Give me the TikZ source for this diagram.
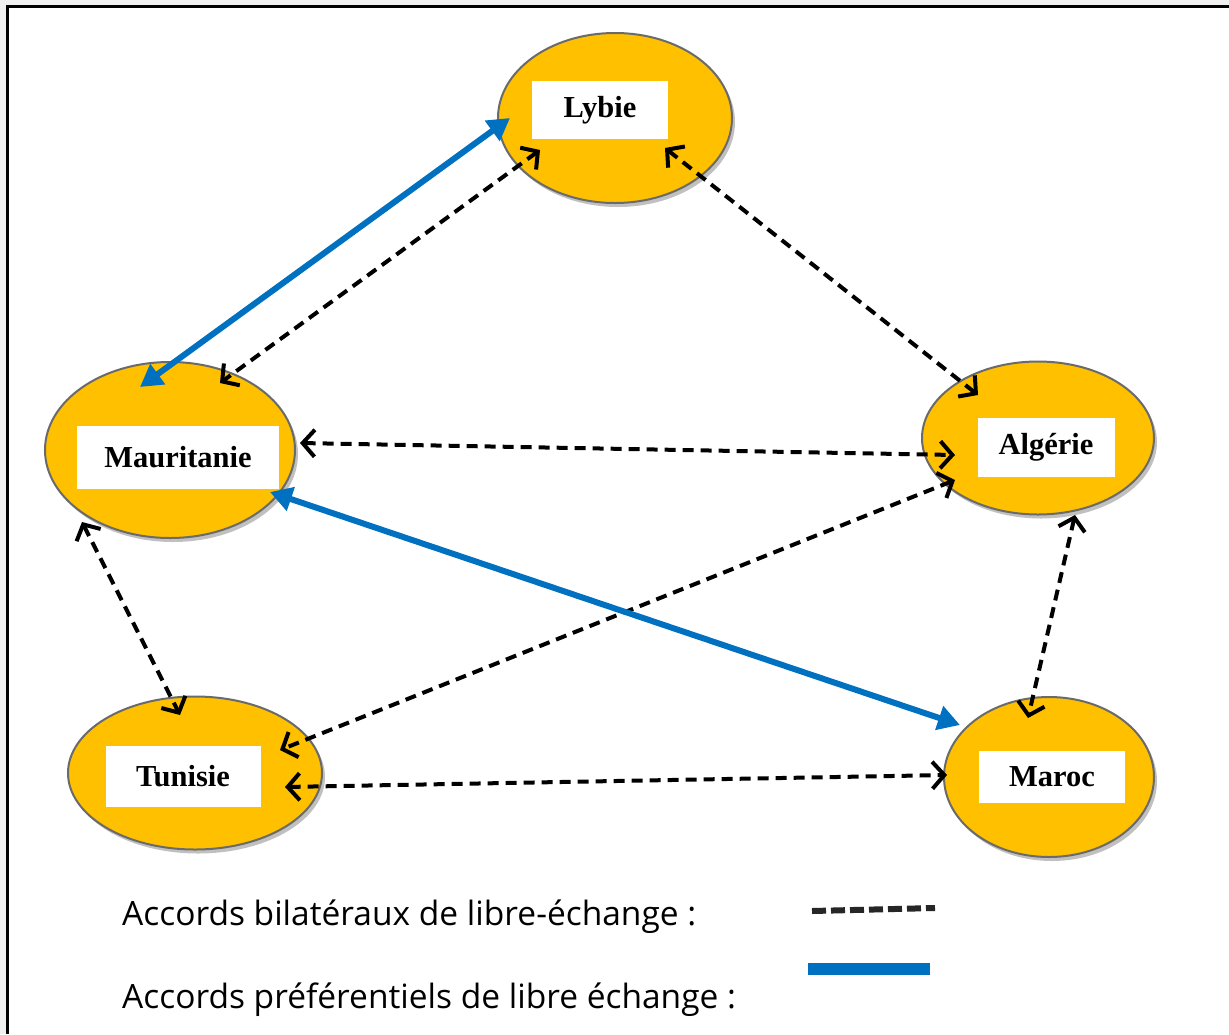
\documentclass[tikz,border=0pt]{standalone}
\usepackage{fontspec}
\setmainfont{Liberation Serif}
\newfontfamily\legfont{Open Sans}
\usetikzlibrary{shapes.geometric,arrows.meta,shadows}
\definecolor{gold}{HTML}{FFC000}
\definecolor{edgegray}{HTML}{6A6A6A}
\definecolor{prefblue}{HTML}{0070C0}
\definecolor{bggray}{HTML}{F0F0F0}
\tikzset{
  country/.style={ellipse, fill=gold, draw=edgegray, line width=2pt, inner sep=0pt,
    drop shadow={shadow xshift=3pt, shadow yshift=-4pt, fill=black!35, opacity=0.7}},
  labelbox/.style={fill=white, inner sep=0pt, font=\bfseries\fontsize{30.5}{33}\selectfont},
  bilat/.style={black, line width=4pt, dash pattern=on 11pt off 7pt,
    {Straight Barb[length=12pt,width=27pt]}-{Straight Barb[length=12pt,width=27pt]}},
  pref/.style={prefblue, line width=6pt,
    {Triangle[length=22pt,width=24pt]}-{Triangle[length=22pt,width=24pt]}},
  legtext/.style={anchor=west, inner sep=0pt, font=\legfont\fontsize{33.5}{36}\selectfont}
}
\begin{document}
\begin{tikzpicture}[x=1pt,y=-1pt]
\useasboundingbox (0,0) rectangle (1229,1034);
\fill[bggray] (0,0) rectangle (1229,1034);
\fill[white] (7,6) rectangle (1229,1034);
\draw[black, line width=3pt] (7,1034) -- (7,6) -- (1229,6);

% countries
\node[country, minimum width=234pt, minimum height=170pt] (lyb) at (615,118) {};
\node[country, minimum width=250pt, minimum height=176pt] (mau) at (170,450) {};
\node[country, minimum width=232pt, minimum height=153pt] (alg) at (1038,438) {};
\node[country, minimum width=254pt, minimum height=153pt] (tun) at (195,773) {};
\node[country, minimum width=210pt, minimum height=160pt] (mar) at (1049,777) {};

\node[labelbox, minimum width=136pt, minimum height=58pt] (lybL) at (600,110) {Lybie};
\node[labelbox, minimum width=202pt, minimum height=63pt] (mauL) at (178,457) {Mauritanie};
\node[labelbox, minimum width=137pt, minimum height=59pt] (algL) at (1046,447) {Algérie};
\node[labelbox, minimum width=155pt, minimum height=61pt] (tunL) at (183,776) {Tunisie};
\node[labelbox, minimum width=146pt, minimum height=52pt] (marL) at (1052,777) {Maroc};

% arrow end points
\coordinate (lybSW) at (540,150);
\coordinate (lybSE) at (665,148);
\coordinate (lybW) at (510,118);
\coordinate (mauNE) at (220,383);
\coordinate (mauN) at (140,387);
\coordinate (mauE) at (300,443);
\coordinate (mauSE) at (270,492);
\coordinate (mauSW) at (82,522);
\coordinate (algNW) at (978,395);
\coordinate (algW) at (955,455);
\coordinate (algSW) at (955,480);
\coordinate (algS) at (1075,515);
\coordinate (tunN) at (180,715);
\coordinate (tunNE) at (280,750);
\coordinate (tunE) at (285,787);
\coordinate (marNW) at (960,725);
\coordinate (marN) at (1028,718);
\coordinate (marW) at (947,775);

% bilateral agreements
\draw[bilat] (lybSW) -- (mauNE);
\draw[bilat] (lybSE) -- (algNW);
\draw[bilat] (mauE) -- (algW);
\draw[bilat] (mauSW) -- (tunN);
\draw[bilat] (algSW) -- (tunNE);
\draw[bilat] (algS) -- (marN);
\draw[bilat] (tunE) -- (marW);

% preferential agreements
\draw[pref] (lybW) -- (mauN);
\draw[pref] (mauSE) -- (marNW);

% legend
\node[legtext] (leg1) at (122,917) {Accords bilatéraux de libre-échange :};
\node[legtext] (leg2) at (122,1000) {Accords préférentiels de libre échange :};
\coordinate (l1a) at (812,911);
\coordinate (l1b) at (935,908);
\coordinate (l2a) at (808,969);
\coordinate (l2b) at (930,969);
\draw[black!85, line width=6pt, dash pattern=on 14pt off 5pt] (l1a) -- (l1b);
\draw[prefblue, line width=12pt] (l2a) -- (l2b);
\end{tikzpicture}
\end{document}
